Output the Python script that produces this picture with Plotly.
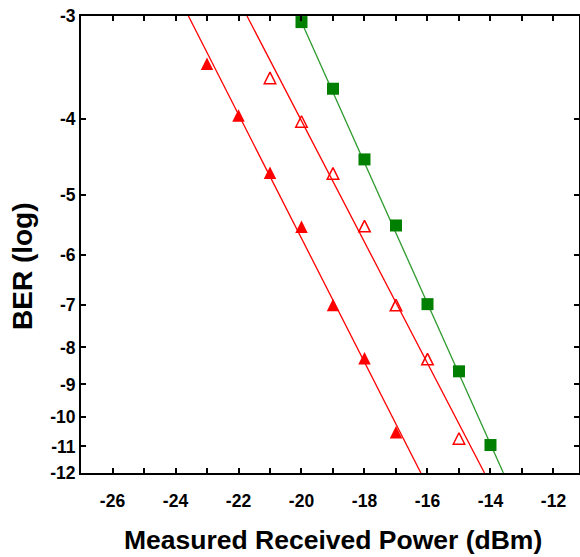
import math
from statistics import NormalDist
import plotly.graph_objects as go

# ---- data (BER given as log10 exponent) ----
power_filled = [-23, -22, -21, -20, -19, -18, -17]
ber_filled = [-3.42, -3.96, -4.68, -5.50, -7.00, -8.28, -10.50]

power_open = [-21, -20, -19, -18, -17, -16, -15]
ber_open = [-3.56, -4.03, -4.69, -5.49, -7.00, -8.30, -10.72]

power_square = [-20, -19, -18, -17, -16, -15, -14]
ber_square = [-3.05, -3.67, -4.50, -5.48, -6.98, -8.63, -10.95]

fit_filled_x = [-23.59, -16.21]
fit_filled_y = [-3.0, -12.0]
fit_open_x = [-21.73, -14.19]
fit_open_y = [-3.0, -12.0]
fit_square_x = [-20.0, -13.59]
fit_square_y = [-3.05, -12.0]

y_tick_exps = [-3, -4, -5, -6, -7, -8, -9, -10, -11, -12]
x_tick_vals = list(range(-27, -11))
x_tick_text = [str(v) if v % 2 == 0 else "" for v in x_tick_vals]


def q_of(e):
    """Q-factor corresponding to BER = 10**e (axis is log of Q)."""
    return -NormalDist().inv_cdf(10 ** e)


def qs(lst):
    return [q_of(e) for e in lst]


RED = "#ff0000"
GREEN = "#007f00"
GREEN_LINE = "#2f9a2f"
TRI = 12.5

fig = go.Figure()
fig.add_trace(go.Scatter(x=fit_filled_x, y=qs(fit_filled_y), mode="lines",
                         line=dict(color=RED, width=1.3), showlegend=False))
fig.add_trace(go.Scatter(x=fit_open_x, y=qs(fit_open_y), mode="lines",
                         line=dict(color=RED, width=1.3), showlegend=False))
fig.add_trace(go.Scatter(x=fit_square_x, y=qs(fit_square_y), mode="lines",
                         line=dict(color=GREEN_LINE, width=1.3), showlegend=False))

fig.add_trace(go.Scatter(x=power_filled, y=qs(ber_filled), mode="markers",
                         marker=dict(symbol="arrow-down", angle=180, standoff=TRI / 2,
                                     size=TRI, color=RED, line=dict(width=0)),
                         showlegend=False))
fig.add_trace(go.Scatter(x=power_open, y=qs(ber_open), mode="markers",
                         marker=dict(symbol="arrow-down-open", angle=180, standoff=11.5 / 2,
                                     size=11.5, color=RED, line=dict(width=1.5, color=RED)),
                         showlegend=False))
fig.add_trace(go.Scatter(x=power_square, y=qs(ber_square), mode="markers",
                         marker=dict(symbol="square", size=12, color=GREEN,
                                     line=dict(width=0)), showlegend=False))

tick_font = dict(family="Liberation Sans, Arial, sans-serif", size=17.5, color="black", weight="bold")
title_font = dict(family="Liberation Sans, Arial, sans-serif", size=26.5, color="black", weight="bold")

fig.update_xaxes(range=[-27, -11.19], tickmode="array", tickvals=x_tick_vals, ticktext=x_tick_text,
                 ticks="inside", ticklen=5, tickwidth=1.5, tickcolor="black",
                 showline=True, linecolor="black", linewidth=2, mirror="ticks",
                 showgrid=False, zeroline=False, tickfont=tick_font, ticklabelstandoff=11,
                 ticklabeloverflow="allow", automargin=False)
fig.update_yaxes(type="log",
                 range=[math.log10(q_of(-12)) + 1e-7, math.log10(q_of(-3)) - 1e-7],
                 tickmode="array", tickvals=qs(y_tick_exps), ticktext=[str(v) for v in y_tick_exps],
                 ticks="inside", ticklen=5, tickwidth=1.5, tickcolor="black",
                 showline=True, linecolor="black", linewidth=2, mirror="ticks",
                 showgrid=False, zeroline=False, tickfont=tick_font, ticklabelstandoff=0,
                 ticklabeloverflow="allow", automargin=False)

fig.add_annotation(text="Measured Received Power (dBm)", xref="paper", yref="paper",
                   x=0.506, y=0, xanchor="center", yanchor="middle", yshift=-67,
                   showarrow=False, font=title_font)
fig.add_annotation(text="BER (log)", xref="paper", yref="paper",
                   x=0, y=0.453, xanchor="center", yanchor="middle", xshift=-58,
                   textangle=-90, showarrow=False, font=dict(title_font, size=28))

fig.update_layout(width=580, height=557, margin=dict(l=81, r=1, t=16, b=84, autoexpand=False),
                  plot_bgcolor="white", paper_bgcolor="white")

# remove the default page margin so the figure fills the window exactly
fig.write_html("out.html", config={"displayModeBar": False},
               post_script="document.body.style.margin='0px';")
